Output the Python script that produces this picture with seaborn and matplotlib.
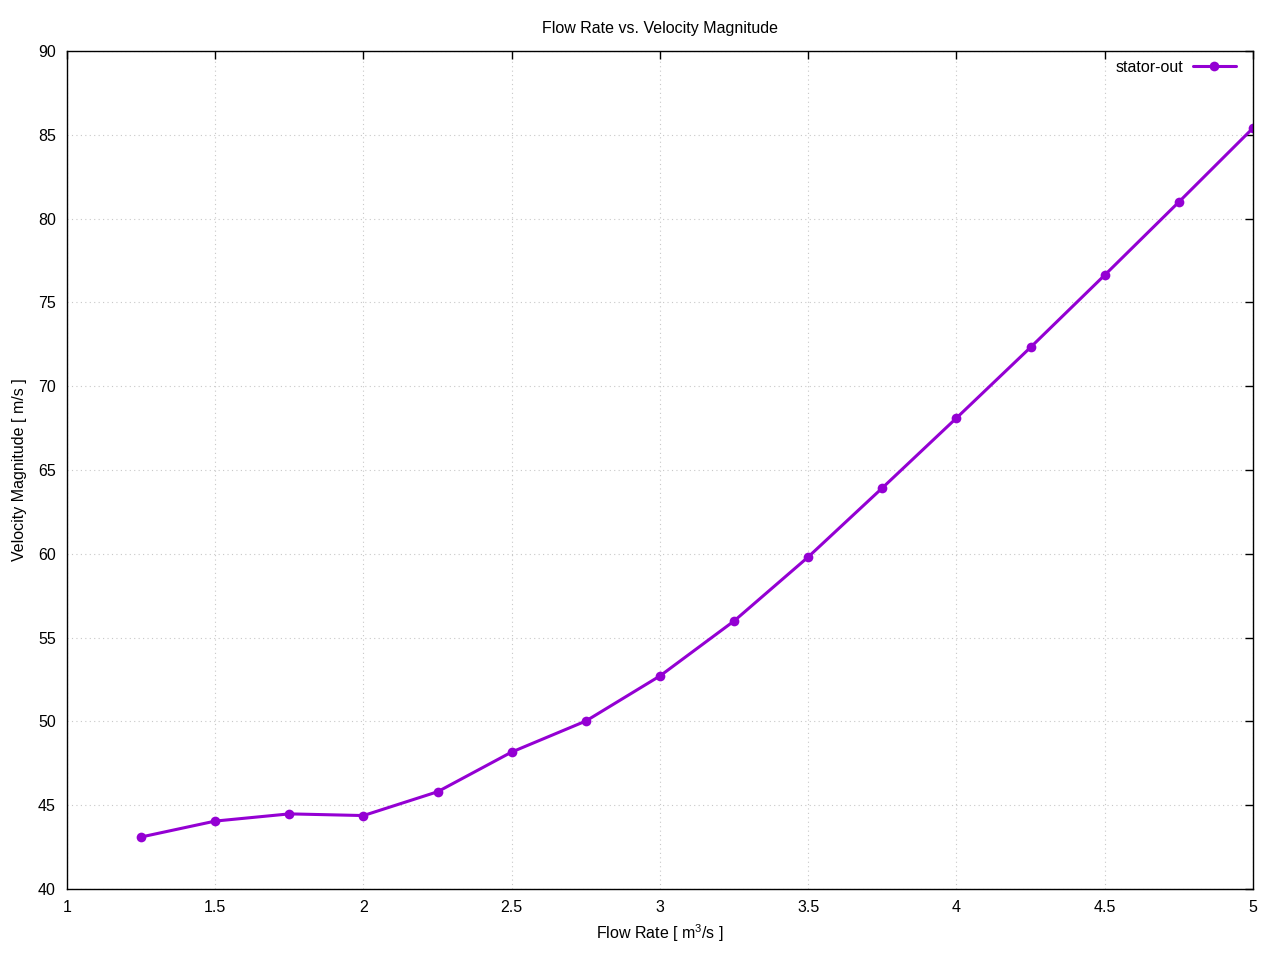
import pandas as pd
import seaborn as sns
import matplotlib.pyplot as plt

# data
flow_rate = [1.25, 1.5, 1.75, 2.0, 2.25, 2.5, 2.75, 3.0, 3.25, 3.5, 3.75, 4.0, 4.25, 4.5, 4.75, 5.0]
velocity = [43.1, 44.05, 44.48, 44.38, 45.8, 48.17, 50.02, 52.71, 55.99, 59.81, 63.93, 68.1, 72.32, 76.63, 80.99, 85.4]
x_ticks = [1, 1.5, 2, 2.5, 3, 3.5, 4, 4.5, 5]
x_tick_labels = ['1', '1.5', '2', '2.5', '3', '3.5', '4', '4.5', '5']
y_ticks = [40, 45, 50, 55, 60, 65, 70, 75, 80, 85, 90]

df = pd.DataFrame({'flow': flow_rate, 'velocity': velocity, 'series': 'stator-out'})

sns.set_style('white')
plt.rcParams['font.family'] = ['Liberation Sans', 'DejaVu Sans']
plt.rcParams['mathtext.fontset'] = 'custom'
plt.rcParams['mathtext.rm'] = 'Liberation Sans'
plt.rcParams['text.color'] = 'black'
plt.rcParams['axes.labelcolor'] = 'black'

fig = plt.figure(figsize=(12.8, 9.6), dpi=100)
ax = fig.add_axes([0.0523, 0.074, 0.9266, 0.8729])

sns.lineplot(data=df, x='flow', y='velocity', hue='series', palette=['#9400D3'],
             marker='o', markersize=7, markeredgewidth=0, linewidth=2.2, ax=ax)

ax.set_xlim(1, 5)
ax.set_ylim(40, 90)
ax.set_xticks(x_ticks)
ax.set_xticklabels(x_tick_labels)
ax.set_yticks(y_ticks)
ax.grid(True, color='#c8c8c8', linestyle=(0, (1, 3)), linewidth=0.8)
ax.tick_params(direction='in', length=5.5, width=1, top=True, right=True,
               labelsize=11.5, pad=8, colors='black')
for s in ax.spines.values():
    s.set_color('black')
    s.set_linewidth(1)

ax.set_xlabel('Flow Rate [ m$^3$/s ]', fontsize=11.5, labelpad=5)
ax.set_ylabel('Velocity Magnitude [ m/s ]', fontsize=11.5, labelpad=8)
ax.set_title('Flow Rate vs. Velocity Magnitude', fontsize=11.5, pad=13)

leg = ax.legend(loc='upper right', bbox_to_anchor=(0.993, 1.0), frameon=False,
                fontsize=11.5, markerfirst=False, handlelength=2.7,
                borderaxespad=0.15, handletextpad=0.6)
for t in leg.get_texts():
    t.set_color('black')

fig.savefig('out.png', dpi=100)
